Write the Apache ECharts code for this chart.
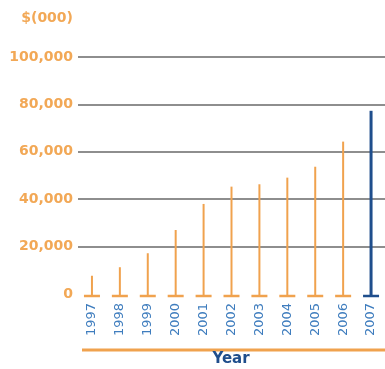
<!DOCTYPE html>
<html>
<head>
<meta charset="utf-8">
<script src="https://cdn.jsdelivr.net/npm/echarts@6/dist/echarts.min.js"></script>
<style>
  html, body { margin: 0; padding: 0; background: #fff; }
  #chart { width: 385px; height: 369px; }
</style>
</head>
<body>
<div id="chart"></div>
<script>
// Annual amounts, in thousands of dollars
const years = ['1997', '1998', '1999', '2000', '2001', '2002', '2003', '2004', '2005', '2006', '2007'];
const amounts = [7700, 11300, 17200, 27000, 38000, 45300, 46300, 49100, 53700, 64300, 77300];
const yTicks = { min: 0, max: 100000, interval: 20000 };

const ORANGE = '#F2A856';
const BAR_ORANGE = '#F0A24E';
const BLUE_TEXT = '#3F7DBE';
const DARK_BLUE = '#1F4E8C';
const FONT = '"DejaVu Sans", "Noto Sans", sans-serif';

const chart = echarts.init(document.getElementById('chart'), null, { renderer: 'canvas' });

// Each mark is a thin stem rising from zero with a short cap at its foot;
// the latest year is highlighted in dark blue.
function renderStem(params, api) {
  const idx = api.value(0);
  const top = api.coord([idx, api.value(1)]);
  const base = api.coord([idx, 0]);
  const last = params.dataIndex === years.length - 1;
  const color = last ? DARK_BLUE : BAR_ORANGE;
  const w = last ? 3 : 2;
  const capY = base[1] + 2;
  return {
    type: 'group',
    children: [
      { type: 'line', shape: { x1: top[0], y1: top[1], x2: top[0], y2: capY },
        style: { stroke: color, lineWidth: w } },
      { type: 'line', shape: { x1: top[0] - 8, y1: capY, x2: top[0] + 8, y2: capY },
        style: { stroke: color, lineWidth: 2.5 } }
    ]
  };
}

chart.setOption({
  animation: false,
  grid: { left: 78, right: -1, top: 57, bottom: 75, containLabel: false },
  xAxis: {
    type: 'category',
    data: years,
    axisLine: { show: false },
    axisTick: { show: false },
    axisLabel: {
      rotate: 90, margin: 9, color: BLUE_TEXT,
      fontFamily: FONT, fontSize: 13
    }
  },
  yAxis: {
    type: 'value',
    min: yTicks.min, max: yTicks.max, interval: yTicks.interval,
    axisLine: { show: false },
    axisTick: { show: false },
    axisLabel: {
      margin: 5, color: ORANGE, fontFamily: FONT, fontSize: 14, fontWeight: 'bold',
      formatter: v => v.toLocaleString('en-US')
    },
    splitLine: { show: true, showMinLine: false, lineStyle: { color: '#8E8E8E', width: 2 } }
  },
  graphic: [
    { type: 'text', x: 73, y: 18,
      style: { text: '$(000)', fill: ORANGE, font: 'bold 14px ' + FONT,
               align: 'right', verticalAlign: 'middle' } },
    { type: 'rect', shape: { x: 82, y: 348.5, width: 303, height: 3 },
      style: { fill: BAR_ORANGE } },
    { type: 'text', x: 231, y: 359,
      style: { text: 'Year', fill: DARK_BLUE, font: 'bold 15px ' + FONT,
               align: 'center', verticalAlign: 'middle' } }
  ],
  series: [{
    type: 'custom',
    renderItem: renderStem,
    encode: { x: 0, y: 1 },
    data: amounts.map((v, i) => [i, v])
  }]
});
</script>
</body>
</html>
